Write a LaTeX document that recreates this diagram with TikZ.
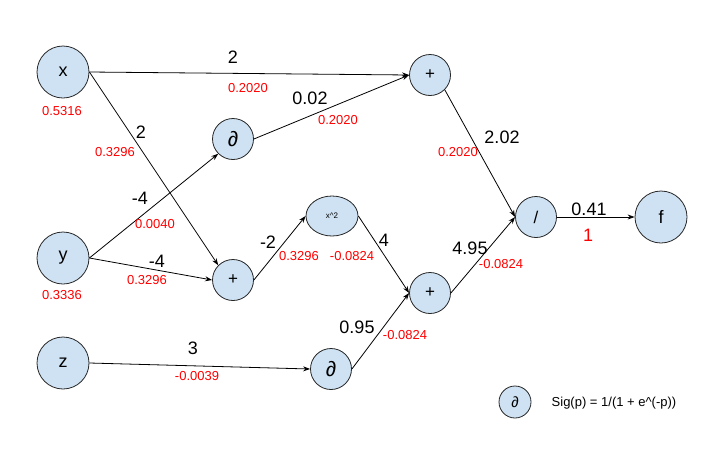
\documentclass[tikz,border=0pt]{standalone}
\usepackage{fontspec}
\setmainfont{Liberation Sans}
\usetikzlibrary{arrows.meta,shapes.geometric}
\definecolor{nodefill}{HTML}{CFE2F3}
\definecolor{lblred}{HTML}{FF0000}
\begin{document}
\begin{tikzpicture}[x=1pt,y=-1pt,
 big/.style={circle,draw=black!85,line width=0.8pt,fill=nodefill,minimum size=52pt,inner sep=0pt,font=\fontsize{18}{20}\selectfont},
 op/.style={circle,draw=black!85,line width=0.8pt,fill=nodefill,minimum size=41pt,inner sep=0pt,font=\fontsize{17}{20}\selectfont},
 dop/.style={op,font=\fontsize{21}{22}\selectfont},
 wt/.style={font=\fontsize{18}{20}\selectfont,inner sep=0pt},
 gr/.style={text=lblred,font=\fontsize{13}{15}\selectfont,inner sep=0pt},
 conn/.style={draw=black,line width=0.8pt,-{Stealth[length=7pt,width=5pt]}}
]
\useasboundingbox (0,0) rectangle (718,448);
% nodes
\node[big] (x) at (63,72) {x};
\node[big] (y) at (63,258) {y};
\node[big] (z) at (63,363) {z};
\node[dop] (dtop) at (233,139) {∂};
\node[op] (ptop) at (430,75) {+};
\node[op] (pmid) at (233,280) {+};
\node[ellipse,draw=black!85,line width=0.8pt,fill=nodefill,minimum width=52pt,minimum height=40pt,inner sep=0pt,font=\fontsize{8}{9}\selectfont] (sq) at (332,216) {x\textasciicircum 2};
\node[dop] (dbot) at (331,369) {∂};
\node[op] (plr) at (430,293) {+};
\node[op] (div) at (536,217) {/};
\node[big] (f) at (661,217) {f};
\node[circle,draw=black!85,line width=0.8pt,fill=nodefill,minimum size=32pt,inner sep=0pt,font=\fontsize{15}{16}\selectfont] (leg) at (515,402) {∂};
\node[inner sep=0pt,font=\fontsize{13}{15}\selectfont] (legtxt) at (614,403) {Sig(p) = 1/(1 + e\textasciicircum(-p))};
% connectors
\draw[conn] (x.east) -- (ptop.west);
\draw[conn] (x.east) -- (pmid.north west);
\draw[conn] (y.east) -- (dtop.south west);
\draw[conn] (y.east) -- (pmid.west);
\draw[conn] (dtop.east) -- (ptop.west);
\draw[conn] (pmid.east) -- (sq.west);
\draw[conn] (sq.east) -- (plr.west);
\draw[conn] (dbot.east) -- (plr.west);
\draw[conn] (z.east) -- (dbot.west);
\draw[conn] (ptop.south east) -- (div.west);
\draw[conn] (plr.east) -- (div.west);
\draw[conn] (div.east) -- (f.west);
% value labels
\node[gr] (vx) at (62,111) {0.5316};
\node[gr] (vy) at (62,295) {0.3336};
% edge labels
\node[wt] (w1) at (233,57) {2};
\node[gr] (g1) at (248,88) {0.2020};
\node[wt] (w2) at (141,132) {2};
\node[gr] (g2) at (115,152) {0.3296};
\node[wt] (w3) at (310,98) {0.02};
\node[gr] (g3) at (338,120) {0.2020};
\node[wt] (w4) at (140,198) {-4};
\node[gr] (g4) at (155,224) {0.0040};
\node[wt] (w5) at (157,261) {-4};
\node[gr] (g5) at (147,280) {0.3296};
\node[wt] (w6) at (268,242) {-2};
\node[gr] (g6) at (299,256) {0.3296};
\node[wt] (w7) at (384,240) {4};
\node[gr] (g7) at (352,256) {-0.0824};
\node[wt] (w8) at (357,327) {0.95};
\node[gr] (g8) at (405,335) {-0.0824};
\node[wt] (w9) at (470,248) {4.95};
\node[gr] (g9) at (501,264) {-0.0824};
\node[wt] (w10) at (502,137) {2.02};
\node[gr] (g10) at (458,152) {0.2020};
\node[wt] (w11) at (589,209) {0.41};
\node[text=lblred,inner sep=0pt,font=\fontsize{18}{20}\selectfont] (g11) at (588,235) {1};
\node[wt] (w12) at (193,348) {3};
\node[gr] (g12) at (197,376) {-0.0039};
\end{tikzpicture}
\end{document}
